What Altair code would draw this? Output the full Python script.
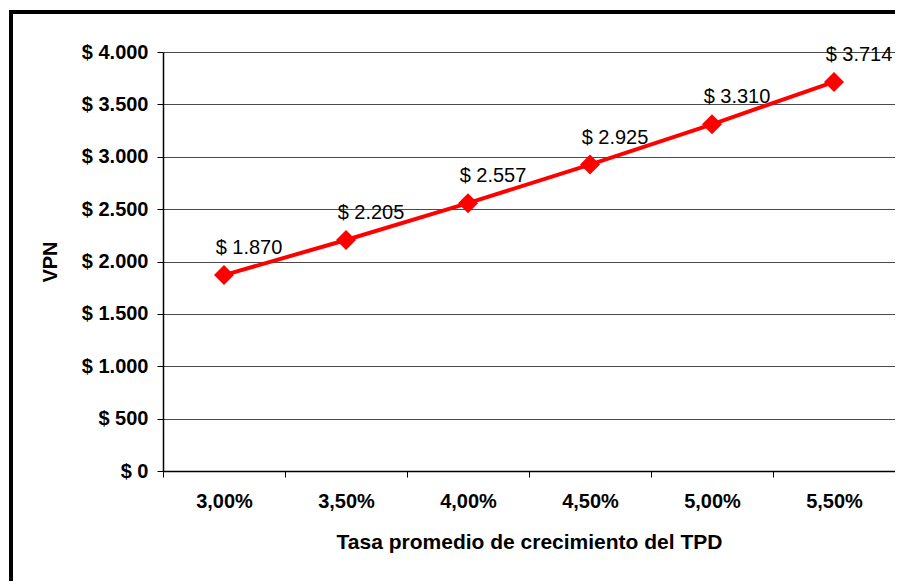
import altair as alt
import pandas as pd

tasas = ["3,00%", "3,50%", "4,00%", "4,50%", "5,00%", "5,50%"]
vpn = [1870, 2205, 2557, 2925, 3310, 3714]
y_ticks = [0, 500, 1000, 1500, 2000, 2500, 3000, 3500, 4000]

df = pd.DataFrame({"tasa": tasas, "vpn": vpn})
frame_df = pd.DataFrame({"k": [0]})

FONT = "Liberation Sans"
W, H = 732, 419

x_enc = alt.X(
    "tasa:N",
    sort=tasas,
    scale=alt.Scale(type="band", paddingInner=0, paddingOuter=0),
    axis=alt.Axis(
        title="Tasa promedio de crecimiento del TPD",
        labelAngle=0,
        tickBand="extent",
        labelFont=FONT, labelFontSize=20, labelFontWeight="bold", labelColor="black",
        labelPadding=14, tickSize=6, tickColor="black",
        domainColor="black", domainWidth=1.5,
        titleFont=FONT, titleFontSize=21, titleFontWeight="bold", titleColor="black",
        titleY=71, titleBaseline="middle",
        grid=False,
    ),
)
y_enc = alt.Y(
    "vpn:Q",
    scale=alt.Scale(domain=[0, 4000], nice=False),
    axis=alt.Axis(
        title="VPN",
        values=y_ticks,
        labelExpr="'$ ' + replace(format(datum.value, ',.0f'), ',', '.')",
        labelFont=FONT, labelFontSize=20, labelFontWeight="bold", labelColor="black",
        labelPadding=9, tickSize=6, tickColor="black",
        domainColor="black", domainWidth=1.5,
        titleFont=FONT, titleFontSize=20, titleFontWeight="bold", titleColor="black",
        titleX=-113, titleY=H / 2, titleBaseline="middle",
        grid=True, gridColor="#4a4a4a", gridWidth=1,
    ),
)

base = alt.Chart(df).encode(x=x_enc, y=y_enc)

line = base.mark_line(color="#ff0000", strokeWidth=4)
points = base.mark_point(shape="diamond", filled=True, size=400, color="#ff0000", opacity=1)
labels = base.mark_text(
    font=FONT, fontSize=20, color="black", dx=25, dy=-27
).transform_calculate(
    lbl="'$ ' + replace(format(datum.vpn, ',.0f'), ',', '.')"
).encode(text="lbl:N")

frame_left = alt.Chart(frame_df).mark_rule(color="black", strokeWidth=4).encode(
    x=alt.value(-152), y=alt.value(-42), y2=alt.value(600)
)
frame_top = alt.Chart(frame_df).mark_rule(color="black", strokeWidth=4).encode(
    x=alt.value(-154), x2=alt.value(760), y=alt.value(-40)
)

chart = alt.layer(line, points, labels, frame_left, frame_top).properties(
    width=W,
    height=H,
    autosize=alt.AutoSizeParams(type="none"),
    padding={"left": 155, "top": 44, "right": 0, "bottom": 110},
).configure_view(
    stroke="#8c8c8c", strokeWidth=1
).configure(background="white")

chart.save("out.html", embed_options={"renderer": "svg", "actions": False})
